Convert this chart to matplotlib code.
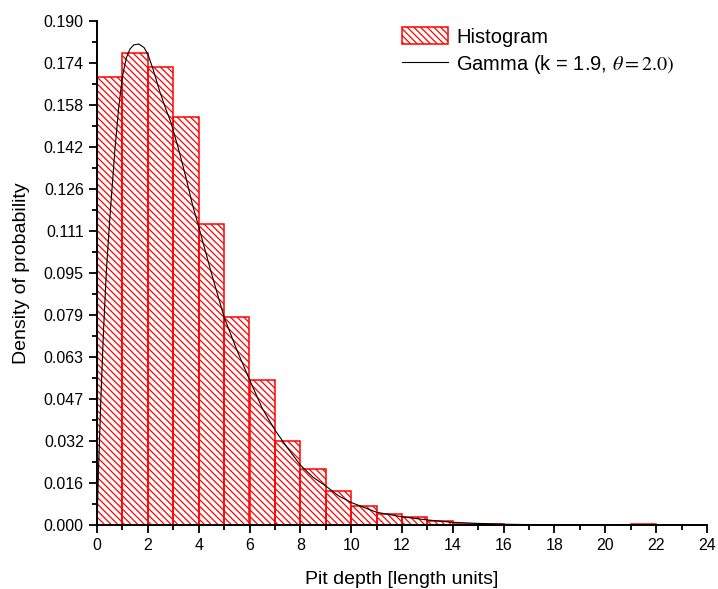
import numpy as np
import matplotlib
matplotlib.use('Agg')
import matplotlib.pyplot as plt

plt.rcParams['font.family'] = ['Liberation Sans', 'DejaVu Sans']
plt.rcParams['mathtext.fontset'] = 'stix'
plt.rcParams['hatch.color'] = 'red'
plt.rcParams['hatch.linewidth'] = 0.9

#%% histogram of pit depths (bin width 1)
bin_left = np.arange(0, 22)
density = [0.1690, 0.1778, 0.1728, 0.1539, 0.1135, 0.0784, 0.0548, 0.0317,
           0.0210, 0.0129, 0.0073, 0.0043, 0.0030, 0.0015, 0.0005, 0.0003,
           0.0001, 0.0001, 0.00005, 0.0, 0.0, 0.0002]

#%% fitted gamma curve
gx = [0, 0.05, 0.15, 0.25, 0.37, 0.5, 0.7, 0.85, 1.0, 1.15, 1.3, 1.45, 1.65,
      1.85, 2.0, 2.2, 2.45, 2.7, 2.9, 3.2, 3.5, 3.75, 4.0, 4.5, 5.0, 5.5,
      6.0, 6.5, 7.0, 7.5, 8.0, 8.5, 9.0, 9.5, 10, 11, 12, 13, 14, 15, 16,
      17, 18, 20, 22, 24]
gy = [0, 0.018, 0.047, 0.072, 0.096, 0.115, 0.141, 0.157, 0.169, 0.176,
      0.1795, 0.181, 0.1813, 0.180, 0.1775, 0.172, 0.164, 0.157, 0.152,
      0.142, 0.131, 0.121, 0.1125, 0.095, 0.0784, 0.066, 0.0548, 0.044,
      0.0358, 0.029, 0.0226, 0.018, 0.0147, 0.011, 0.0085, 0.0048, 0.0031,
      0.0019, 0.0010, 0.0006, 0.0003, 0.00015, 0.0001, 0.00003, 0.00001, 0]

ytick_labels = ['0.000', '0.016', '0.032', '0.047', '0.063', '0.079', '0.095',
                '0.111', '0.126', '0.142', '0.158', '0.174', '0.190']

#%% plotting
fig = plt.figure(figsize=(7.18, 5.89), dpi=100)
ax = fig.add_axes([97/718, 1-525/589, 610/718, 504/589])

bars = ax.bar(bin_left, density, width=1, align='edge', fill=False,
              edgecolor='red', linewidth=1.1, hatch='\\\\\\\\\\',
              label='Histogram')
line, = ax.plot(gx, gy, color='black', lw=0.8,
                label='Gamma (k = 1.9, $\\theta = 2.0)$')

ax.set_xlim(0, 24)
ax.set_ylim(0, 0.19)
ax.set_xticks(np.arange(0, 25, 2))
ax.set_xticks(np.arange(1, 24, 2), minor=True)
yt = np.linspace(0, 0.19, 13)
ax.set_yticks(yt)
ax.set_yticklabels(ytick_labels)
ax.set_yticks(yt[:-1] + 0.19/24, minor=True)

for s in ['top', 'right']:
    ax.spines[s].set_visible(False)
for s in ['left', 'bottom']:
    ax.spines[s].set_linewidth(1.4)
ax.tick_params(which='major', length=6, width=1.3, labelsize=11.5, direction='out')
ax.tick_params(which='minor', length=3.5, width=1.3, direction='out')

ax.set_xlabel('Pit depth [length units]', fontsize=14, labelpad=13)
ax.set_ylabel('Density of probability', fontsize=14, labelpad=10)

ax.legend([bars, line], [bars.get_label(), line.get_label()],
          loc='upper left', bbox_to_anchor=(0.5, 0.988), frameon=False,
          fontsize=14.5, borderpad=0, borderaxespad=0, handlelength=2.3,
          handleheight=0.95, handletextpad=0.4, labelspacing=0.3)

fig.savefig('out.png', dpi=100)
